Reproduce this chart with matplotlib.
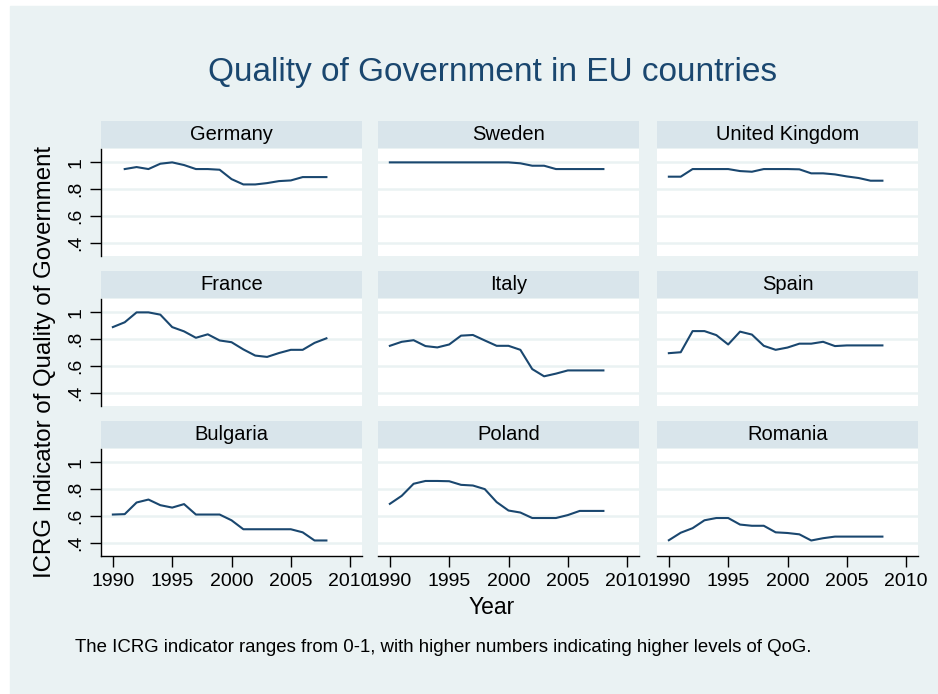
import numpy as np
import matplotlib.pyplot as plt
from matplotlib.patches import Rectangle

plt.rcParams['font.family'] = ['Liberation Sans', 'DejaVu Sans']

years = list(range(1990, 2009))

countries = ['Germany', 'Sweden', 'United Kingdom',
             'France', 'Italy', 'Spain',
             'Bulgaria', 'Poland', 'Romania']

# Germany has no 1990 value
germany = [np.nan, 0.95, 0.965, 0.95, 0.99, 1.0, 0.98, 0.95, 0.95, 0.945,
           0.875, 0.835, 0.835, 0.845, 0.86, 0.865, 0.89, 0.89, 0.89]
sweden = [1.0, 1.0, 1.0, 1.0, 1.0, 1.0, 1.0, 1.0, 1.0, 1.0,
          1.0, 0.993, 0.975, 0.975, 0.95, 0.95, 0.95, 0.95, 0.95]
uk = [0.893, 0.893, 0.95, 0.95, 0.95, 0.95, 0.935, 0.93, 0.95, 0.95,
      0.95, 0.948, 0.918, 0.918, 0.91, 0.895, 0.883, 0.863, 0.863]
france = [0.89, 0.926, 1.0, 1.0, 0.983, 0.89, 0.858, 0.81, 0.836, 0.79,
          0.777, 0.723, 0.677, 0.667, 0.696, 0.72, 0.72, 0.772, 0.806]
italy = [0.75, 0.78, 0.792, 0.748, 0.738, 0.76, 0.826, 0.831, 0.79, 0.75,
         0.75, 0.72, 0.576, 0.522, 0.542, 0.566, 0.566, 0.566, 0.566]
spain = [0.695, 0.702, 0.86, 0.86, 0.83, 0.76, 0.856, 0.834, 0.75, 0.72,
         0.737, 0.766, 0.766, 0.78, 0.748, 0.753, 0.753, 0.753, 0.753]
bulgaria = [0.61, 0.613, 0.70, 0.722, 0.68, 0.662, 0.688, 0.61, 0.61, 0.61,
            0.567, 0.5, 0.5, 0.5, 0.5, 0.5, 0.477, 0.416, 0.416]
poland = [0.69, 0.75, 0.84, 0.861, 0.861, 0.859, 0.832, 0.827, 0.80, 0.703,
          0.64, 0.625, 0.584, 0.584, 0.584, 0.606, 0.637, 0.637, 0.637]
romania = [0.418, 0.474, 0.508, 0.567, 0.584, 0.584, 0.535, 0.526, 0.526, 0.477,
           0.472, 0.462, 0.416, 0.433, 0.445, 0.445, 0.445, 0.445, 0.445]

series = [germany, sweden, uk, france, italy, spain, bulgaria, poland, romania]

yticks = [0.4, 0.6, 0.8, 1.0]
ytick_labels = ['.4', '.6', '.8', '1']
xticks = [1990, 1995, 2000, 2005, 2010]

W, H = 938, 694
navy = '#1a476f'
bg = '#eaf2f3'
strip_col = '#d9e5eb'

fig = plt.figure(figsize=(W / 100, H / 100), dpi=100, facecolor='white')
fig.patches.append(Rectangle((10 / W, 0), 1 - 10 / W, (H - 6) / H,
                             transform=fig.transFigure, color=bg, zorder=-10))

col_x = [101, 378, 657]
row_y = [121, 271, 421]
pw, strip_h, ph = 261, 27, 107


def px(x, y, w, h):
    return [x / W, 1 - (y + h) / H, w / W, h / H]


for i, (name, vals) in enumerate(zip(countries, series)):
    r, c = divmod(i, 3)
    x0, y0 = col_x[c], row_y[r]

    sax = fig.add_axes(px(x0, y0, pw, strip_h))
    sax.set_facecolor(strip_col)
    sax.set_xticks([])
    sax.set_yticks([])
    for s in sax.spines.values():
        s.set_visible(False)
    sax.text(0.5, 0.5, name, ha='center', va='center', fontsize=14.5, transform=sax.transAxes)

    ax = fig.add_axes(px(x0, y0 + strip_h + 1, pw, ph))
    ax.set_facecolor('white')
    ax.plot(years, vals, color=navy, lw=1.5)
    ax.set_xlim(1989, 2011)
    ax.set_ylim(0.3, 1.1)
    ax.set_yticks(yticks)
    ax.set_xticks(xticks)
    ax.grid(axis='y', color=bg, lw=1.8)
    ax.set_axisbelow(True)
    for s in ax.spines.values():
        s.set_visible(False)

    if c == 0:
        ax.spines['left'].set_visible(True)
        ax.spines['left'].set_linewidth(1.0)
        ax.set_yticklabels(ytick_labels, rotation=90, va='center', fontsize=14)
        ax.tick_params(axis='y', length=8, width=1.0, pad=4)
    else:
        ax.tick_params(axis='y', length=0, labelleft=False)

    if r == 2:
        ax.spines['bottom'].set_visible(True)
        ax.spines['bottom'].set_linewidth(1.0)
        ax.set_xticklabels([str(t) for t in xticks], fontsize=14)
        ax.tick_params(axis='x', length=8, width=1.0, pad=4)
    else:
        ax.tick_params(axis='x', length=0, labelbottom=False)

fig.text(493 / W, 1 - 72 / H, 'Quality of Government in EU countries',
         ha='center', va='center', fontsize=24, color=navy)
fig.text(45 / W, 1 - 362 / H, 'ICRG Indicator of Quality of Government',
         ha='center', va='center', rotation=90, fontsize=17.3)
fig.text(492 / W, 1 - 608 / H, 'Year', ha='center', va='center', fontsize=16.5)
fig.text(75 / W, 1 - 648 / H,
         'The ICRG indicator ranges from 0-1, with higher numbers indicating higher levels of QoG.',
         ha='left', va='center', fontsize=13.4)

fig.savefig('out.png', dpi=100, facecolor='white')
